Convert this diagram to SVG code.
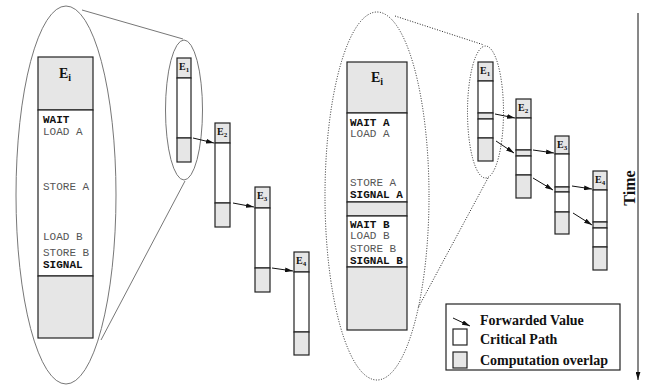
<svg xmlns="http://www.w3.org/2000/svg" width="650" height="386" viewBox="0 0 650 386">
<style>
.bg{fill:#fff}
.g{fill:#e6e6e6;stroke:#222;stroke-width:1.2}
.w{fill:#fff;stroke:#222;stroke-width:1.2}
.ell{fill:none;stroke:#777;stroke-width:1}
.dot{fill:none;stroke:#222;stroke-width:1;stroke-dasharray:1 1.6}
.zl{stroke:#777;stroke-width:1;fill:none}
.zd{stroke:#222;stroke-width:1;fill:none;stroke-dasharray:1 1.6}
.ar{stroke:#111;stroke-width:1;fill:none;marker-end:url(#ah)}
.code{font-family:"Liberation Mono","Courier New",monospace;font-size:11px;fill:#555}
.cb{font-family:"Liberation Mono","Courier New",monospace;font-size:11px;fill:#111;font-weight:bold}
.lbl{font-family:"Liberation Serif","Times New Roman",serif;font-weight:bold;fill:#111}
</style>
<defs>
<marker id="ah" viewBox="0 0 10 6" refX="10" refY="3" markerWidth="8" markerHeight="5" orient="auto" markerUnits="userSpaceOnUse">
<path d="M0,0 L10,3 L0,6 z" fill="#111"/>
</marker>
</defs>
<rect class="bg" x="0" y="0" width="650" height="386"/>

<g id="zoom-left">
<ellipse class="ell" cx="66" cy="195" rx="50" ry="189"/>
<ellipse class="ell" cx="184" cy="110" rx="18.5" ry="70"/>
<line class="zl" x1="82" y1="10" x2="183" y2="39"/>
<line class="zl" x1="185" y1="181" x2="101" y2="340"/>
</g>

<g id="zoom-right">
<ellipse class="dot" cx="377" cy="196" rx="52" ry="184"/>
<ellipse class="dot" cx="485.5" cy="112" rx="18" ry="66"/>
<line class="zd" x1="395" y1="16" x2="484" y2="45"/>
<line class="zd" x1="488" y1="178" x2="418" y2="308"/>
</g>

<g id="Ei-left">
<rect class="g" x="38" y="57" width="55" height="53"/>
<rect class="w" x="38" y="110" width="55" height="166"/>
<rect class="g" x="38" y="276" width="55" height="62"/>
<text class="lbl" x="59" y="78" font-size="14">E<tspan font-size="10" dy="3">i</tspan></text>
<text class="cb" x="43" y="123">WAIT</text>
<text class="code" x="43" y="135">LOAD A</text>
<text class="code" x="43" y="190">STORE A</text>
<text class="code" x="43" y="240">LOAD B</text>
<text class="code" x="43" y="256">STORE B</text>
<text class="cb" x="43" y="268">SIGNAL</text>
</g>

<g id="L-E1">
<rect class="g" x="177" y="58" width="14" height="20"/>
<rect class="w" x="177" y="78" width="14" height="60"/>
<rect class="g" x="177" y="138" width="14" height="24"/>
<text class="lbl" x="179" y="70" font-size="10">E<tspan font-size="7" dy="2">1</tspan></text>
</g>
<g id="L-E2">
<rect class="g" x="215" y="123" width="15" height="20"/>
<rect class="w" x="215" y="143" width="15" height="60"/>
<rect class="g" x="215" y="203" width="15" height="24"/>
<text class="lbl" x="217" y="135" font-size="10">E<tspan font-size="7" dy="2">2</tspan></text>
</g>
<g id="L-E3">
<rect class="g" x="255" y="187" width="15" height="21"/>
<rect class="w" x="255" y="208" width="15" height="60"/>
<rect class="g" x="255" y="268" width="15" height="24"/>
<text class="lbl" x="257" y="199" font-size="10">E<tspan font-size="7" dy="2">3</tspan></text>
</g>
<g id="L-E4">
<rect class="g" x="294" y="252" width="15" height="20"/>
<rect class="w" x="294" y="272" width="15" height="60"/>
<rect class="g" x="294" y="332" width="15" height="23"/>
<text class="lbl" x="296" y="264" font-size="10">E<tspan font-size="7" dy="2">4</tspan></text>
</g>

<g id="Ei-right">
<rect class="g" x="347" y="62" width="60" height="51"/>
<rect class="w" x="347" y="113" width="60" height="89"/>
<rect class="g" x="347" y="202" width="60" height="14"/>
<rect class="w" x="347" y="216" width="60" height="51"/>
<rect class="g" x="347" y="267" width="60" height="63"/>
<text class="lbl" x="371" y="82" font-size="14">E<tspan font-size="10" dy="3">i</tspan></text>
<text class="cb" x="350" y="126">WAIT A</text>
<text class="code" x="350" y="137">LOAD A</text>
<text class="code" x="350" y="186">STORE A</text>
<text class="cb" x="350" y="198">SIGNAL A</text>
<text class="cb" x="350" y="228">WAIT B</text>
<text class="code" x="350" y="239">LOAD B</text>
<text class="code" x="350" y="252">STORE B</text>
<text class="cb" x="350" y="264">SIGNAL B</text>
</g>

<g id="R-E1">
<rect class="g" x="478" y="62" width="15" height="19"/>
<rect class="w" x="478" y="81" width="15" height="32"/>
<rect class="g" x="478" y="113" width="15" height="6"/>
<rect class="w" x="478" y="119" width="15" height="19"/>
<rect class="g" x="478" y="138" width="15" height="23"/>
<text class="lbl" x="480" y="74" font-size="10">E<tspan font-size="7" dy="2">1</tspan></text>
</g>
<g id="R-E2">
<rect class="g" x="516" y="99" width="15" height="19"/>
<rect class="w" x="516" y="118" width="15" height="32"/>
<rect class="g" x="516" y="150" width="15" height="6"/>
<rect class="w" x="516" y="156" width="15" height="19"/>
<rect class="g" x="516" y="175" width="15" height="23"/>
<text class="lbl" x="518" y="111" font-size="10">E<tspan font-size="7" dy="2">2</tspan></text>
</g>
<g id="R-E3">
<rect class="g" x="555" y="136" width="14" height="18"/>
<rect class="w" x="555" y="154" width="14" height="33"/>
<rect class="g" x="555" y="187" width="14" height="5"/>
<rect class="w" x="555" y="192" width="14" height="20"/>
<rect class="g" x="555" y="212" width="14" height="22"/>
<text class="lbl" x="557" y="148" font-size="10">E<tspan font-size="7" dy="2">3</tspan></text>
</g>
<g id="R-E4">
<rect class="g" x="593" y="171" width="14" height="19"/>
<rect class="w" x="593" y="190" width="14" height="32"/>
<rect class="g" x="593" y="222" width="14" height="6"/>
<rect class="w" x="593" y="228" width="14" height="19"/>
<rect class="g" x="593" y="247" width="14" height="23"/>
<text class="lbl" x="595" y="183" font-size="10">E<tspan font-size="7" dy="2">4</tspan></text>
</g>

<g id="connectors">
<line class="ar" x1="193" y1="138" x2="214" y2="143"/>
<line class="ar" x1="233" y1="203" x2="254" y2="207"/>
<line class="ar" x1="272" y1="268" x2="293" y2="271"/>
<line class="ar" x1="495" y1="114" x2="515" y2="118"/>
<line class="ar" x1="496" y1="141" x2="514" y2="153"/>
<line class="ar" x1="533" y1="150" x2="554" y2="153"/>
<line class="ar" x1="533" y1="178" x2="553" y2="190"/>
<line class="ar" x1="572" y1="186" x2="592" y2="189"/>
<line class="ar" x1="573" y1="213" x2="592" y2="225"/>
</g>

<g id="time">
<line class="ar" x1="638" y1="13" x2="638" y2="380" stroke-width="1.3"/>
<text class="lbl" font-size="16" transform="translate(635,188) rotate(-90)" text-anchor="middle">Time</text>
</g>

<g id="legend">
<rect x="446" y="304" width="174" height="66" fill="#fff" stroke="#222" stroke-width="1.2"/>
<line class="ar" x1="453" y1="318" x2="470" y2="326"/>
<text class="lbl" x="480" y="325" font-size="14">Forwarded Value</text>
<rect class="w" x="453" y="329" width="14" height="16"/>
<text class="lbl" x="480" y="344" font-size="14">Critical Path</text>
<rect class="g" x="453" y="352" width="14" height="16"/>
<text class="lbl" x="480" y="365" font-size="14">Computation overlap</text>
</g>
</svg>
